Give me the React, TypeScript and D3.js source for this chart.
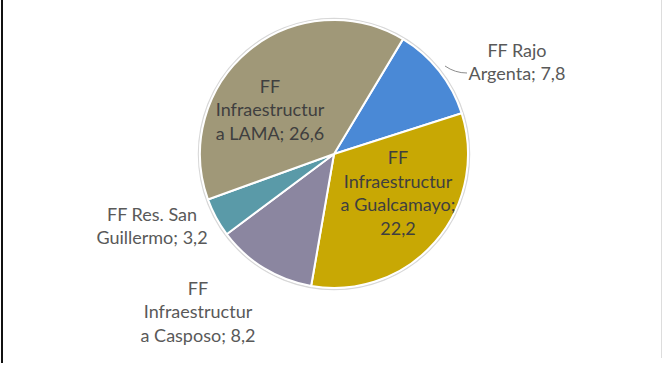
import React, { useEffect, useRef } from 'react';
import * as d3 from 'd3';

// slice data, in Excel drawing order (clockwise)
const categories = [
  'FF Rajo Argenta',
  'FF Infraestructura Gualcamayo',
  'FF Infraestructura Casposo',
  'FF Res. San Guillermo',
  'FF Infraestructura LAMA',
];
const values = [7.8, 22.2, 8.2, 3.2, 26.6];
const valueLabels = ['7,8', '22,2', '8,2', '3,2', '26,6'];
const colors = ['#4a89d6', '#c8a804', '#8b86a0', '#5a9aa8', '#a09878'];

// label lines as Excel wrapped them
const labelLines = [
  ['FF Rajo', 'Argenta; 7,8'],
  ['FF', 'Infraestructur', 'a Gualcamayo;', '22,2'],
  ['FF', 'Infraestructur', 'a Casposo; 8,2'],
  ['FF Res. San', 'Guillermo; 3,2'],
  ['FF', 'Infraestructur', 'a LAMA; 26,6'],
];

const App = () => {
  const ref = useRef<SVGSVGElement>(null);

  useEffect(() => {
    const svg = d3.select(ref.current);
    svg.selectAll('*').remove();

    const width = 664;
    const height = 365;
    const cx = 334;
    const cy = 154;
    const radius = 134;

    svg.append('rect').attr('width', width).attr('height', height).attr('fill', '#fff');
    svg.append('rect').attr('x', 1).attr('y', 0).attr('width', 2).attr('height', 363).attr('fill', '#111');
    svg.append('rect').attr('x', 661).attr('y', 0).attr('width', 1).attr('height', 358).attr('fill', '#ddd');

    const data = categories.map((c, i) => ({ name: c, value: values[i], label: valueLabels[i], i }));

    const startAngle = (31 * Math.PI) / 180;
    const pie = d3
      .pie<any>()
      .value((d) => d.value)
      .sort(null)
      .startAngle(startAngle)
      .endAngle(startAngle + 2 * Math.PI);

    const arc = d3.arc<any>().innerRadius(0).outerRadius(radius);

    const chart = svg.append('g').attr('transform', `translate(${cx}, ${cy})`);

    chart
      .append('circle')
      .attr('r', radius + 1.5)
      .attr('fill', 'none')
      .attr('stroke', '#d8d8d8')
      .attr('stroke-width', 1.5);

    chart
      .selectAll('.slice')
      .data(pie(data))
      .enter()
      .append('path')
      .attr('class', 'slice')
      .attr('d', arc)
      .attr('fill', (d) => colors[d.data.i])
      .attr('stroke', '#fff')
      .attr('stroke-width', 2);

    // label anchor positions (label centre relative to pie centre)
    const labelPos: [number, number][] = [
      [183, -92],
      [64, 39],
      [-136, 158],
      [-182, 72],
      [-64, -44],
    ];
    const lineH = 23.5;

    labelLines.forEach((lines, i) => {
      const [lx, ly] = labelPos[i];
      const inside = i === 1 || i === 4;
      const t = chart
        .append('text')
        .attr('text-anchor', 'middle')
        .style('font-family', 'Lato, "Open Sans", sans-serif')
        .style('font-size', '18px')
        .attr('fill', inside ? '#3f3f3f' : '#595959');
      const y0 = ly - ((lines.length - 1) * lineH) / 2;
      lines.forEach((ln, j) => {
        t.append('tspan')
          .attr('x', lx)
          .attr('y', y0 + j * lineH)
          .attr('dy', '0.35em')
          .text(ln);
      });
    });

    // leader line for the Rajo Argenta label
    chart
      .append('path')
      .attr('d', 'M111,-88 Q121,-81 133,-81')
      .attr('fill', 'none')
      .attr('stroke', '#8c8c8c')
      .attr('stroke-width', 1);
  }, []);

  return (
    <div style={{ position: 'absolute', left: 0, top: 0 }}>
      <svg ref={ref} width={664} height={365}></svg>
    </div>
  );
};

export default App;
